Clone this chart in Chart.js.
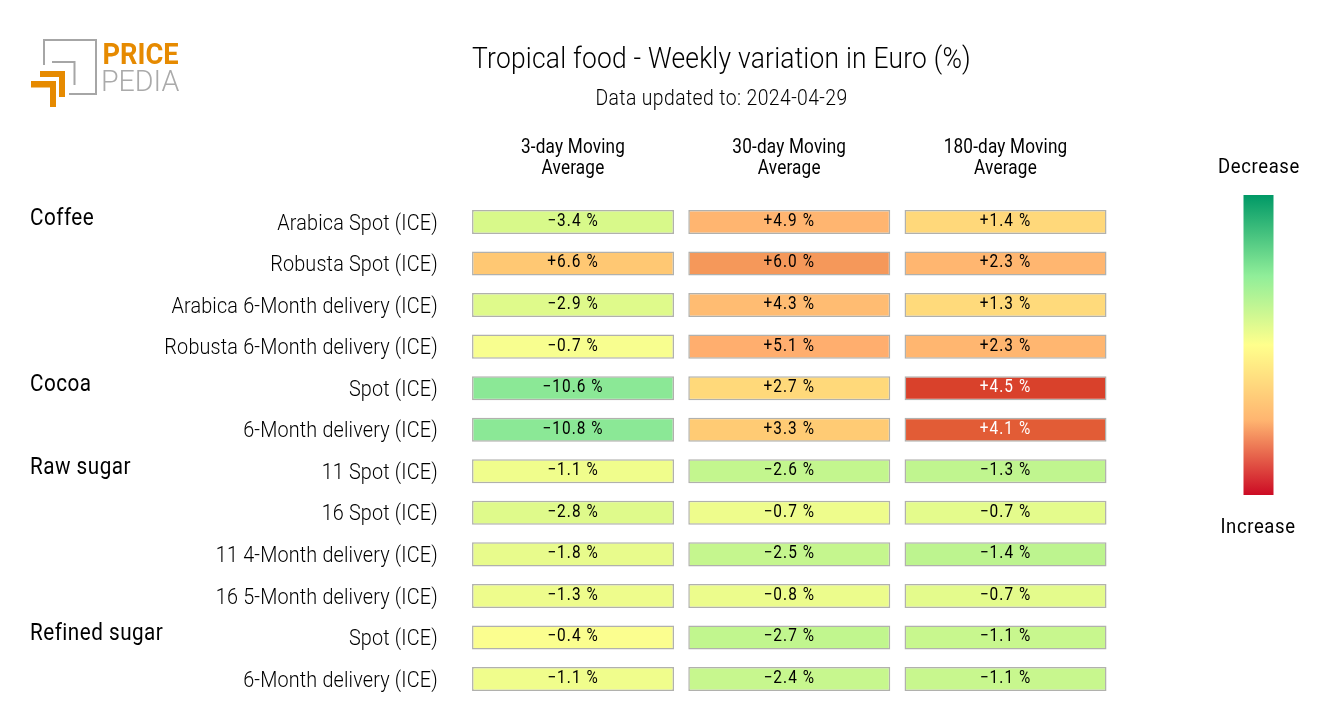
<!DOCTYPE html>
<html><head><meta charset="utf-8">
<style>html,body{margin:0;padding:0;background:#fff}canvas{display:block}</style>
<script src="https://cdn.jsdelivr.net/npm/chart.js@4"></script>
</head><body><canvas id="c" width="1320" height="720"></canvas>
<script>
const rowLabels = ["Arabica Spot (ICE)","Robusta Spot (ICE)","Arabica 6-Month delivery (ICE)","Robusta 6-Month delivery (ICE)","Spot (ICE)","6-Month delivery (ICE)","11 Spot (ICE)","16 Spot (ICE)","11 4-Month delivery (ICE)","16 5-Month delivery (ICE)","Spot (ICE)","6-Month delivery (ICE)"];
const groupLabels = ["Coffee","Cocoa","Raw sugar","Refined sugar"];
const groupRows = [0,4,6,10];
const columnLabels = [["3-day Moving","Average"],["30-day Moving","Average"],["180-day Moving","Average"]];
const ma3 = [-3.4,6.6,-2.9,-0.7,-10.6,-10.8,-1.1,-2.8,-1.8,-1.3,-0.4,-1.1];
const ma30 = [4.9,6.0,4.3,5.1,2.7,3.3,-2.6,-0.7,-2.5,-0.8,-2.7,-2.4];
const ma180 = [1.4,2.3,1.3,2.3,4.5,4.1,-1.3,-0.7,-1.4,-0.7,-1.1,-1.1];
const colors3 = ["#d8f98a","#ffc873","#dffa8b","#f8fe8f","#8be896","#8be896","#f0fd8c","#dffa8b","#e8fb8c","#eefc8c","#fbfe8f","#f0fd8c"];
const colors30 = ["#ffb570","#f5985a","#ffbc72","#ffae6e","#ffd97a","#ffcb74","#c3f68e","#eefc8c","#c5f68e","#ecfc8c","#c1f68e","#c7f78e"];
const colors180 = ["#ffd87a","#ffb670","#ffda7b","#ffb670","#d9412b","#e25c36","#c0f58f","#e4fb8c","#bdf48f","#e4fb8c","#c8f78e","#c8f78e"];
const seriesValues = [ma3, ma30, ma180];
const seriesColors = [colors3, colors30, colors180];
const titleText = "Tropical food - Weekly variation in Euro (%)";
const subtitleText = "Data updated to: 2024-04-29";
const cellInset = 0.033;
// font px size -> letter spacing (the reference text is narrow and tall)
const spacing = {30:0.25, 22:0.46, 22.5:0.2, 19.5:0.2, 17.5:1.2, 23.5:0.55, 21:0.7};
let squish = 0.88;

function fmt(v){ return (v<0?"\u2212":"+")+Math.abs(v).toFixed(1)+" %"; }
function isDark(hex){ const r=parseInt(hex.slice(1,3),16),g=parseInt(hex.slice(3,5),16),b=parseInt(hex.slice(5,7),16); return (.3*r+.59*g+.11*b)<150; }

const extras = {
  id:"extras",
  afterLayout(ch){
    ch.boxes.forEach(b=>{ if(b.options && b.options.text!==undefined){ b.left=123; b.right=1320; } });
  },
  beforeDraw(ch){
    const c=ch.ctx;
    if(!c._patched){
      const orig=c.fillText.bind(c);
      c.fillText=function(t,x,y){
        const m=/([\d.]+)px/.exec(c.font), s=spacing[m?parseFloat(m[1]):0]||0;
        c.save(); c.letterSpacing=s+"px"; c.translate(x,y); c.scale(squish,1); orig(t,0,0); c.restore();
      };
      c._patched=true;
    }
  },
  afterDraw(ch){
    const c=ch.ctx, xs=ch.scales.x, ys=ch.scales.y;
    c.save();
    c.textAlign="center"; c.textBaseline="middle"; c.font="400 17.5px Roboto";
    seriesValues.forEach((vals,k)=>vals.forEach((v,r)=>{
      c.fillStyle=isDark(seriesColors[k][r])?"#fff":"#000";
      c.fillText(fmt(v),xs.getPixelForValue(k+.5),ys.getPixelForValue(r)-0.5);
    }));
    c.textAlign="left"; c.font="400 23.5px Roboto"; c.fillStyle="#000";
    groupLabels.forEach((g,i)=>c.fillText(g,30,ys.getPixelForValue(groupRows[i])-3));
    const g=c.createLinearGradient(0,195,0,495);
    g.addColorStop(0,"#009966");g.addColorStop(.27,"#90ee99");g.addColorStop(.5,"#ffff8c");g.addColorStop(.75,"#ffb570");g.addColorStop(1,"#cc0b24");
    c.fillStyle=g;c.fillRect(1243.5,195,30,300);
    c.fillStyle="#000";c.textAlign="center";c.font="400 21px Roboto";
    c.fillText("Decrease",1259,168);c.fillText("Increase",1258,528);
    c.strokeStyle="#a6a6a6";c.lineWidth=2;c.beginPath();
    c.moveTo(44,65);c.lineTo(44,40);c.lineTo(96,40);c.lineTo(96,94);c.lineTo(69,94);
    c.moveTo(52,62);c.lineTo(74.5,62);c.lineTo(74.5,85);c.stroke();
    c.fillStyle="#e68a00";
    c.fillRect(40,71,25,6);c.fillRect(59,71,6,26);
    c.fillRect(31,81,25,6.5);c.fillRect(50,81,6,26);
    c.textAlign="left";c.textBaseline="alphabetic";
    squish=0.92;c.font="700 29.6px Roboto";c.fillText("PRICE",102.5,64);
    squish=1;c.fillStyle="#aaaaaa";c.font="300 28.6px Roboto";c.fillText("PEDIA",101,90.5);
    squish=0.88;
    c.restore();
  }
};

function noPad(s){ s.paddingTop=0; s.paddingBottom=0; }

new Chart(document.getElementById("c"),{
  type:"bar",
  data:{labels:rowLabels,datasets:seriesValues.map((vals,k)=>({
    label:columnLabels[k].join(" "),
    data:vals.map(()=>[k+cellInset,k+1-cellInset]),
    backgroundColor:seriesColors[k],
    borderColor:"rgba(70,70,60,0.42)",
    borderWidth:1.5,borderSkipped:false,grouped:false,
    barPercentage:1,categoryPercentage:0.58
  }))},
  plugins:[extras],
  options:{
    indexAxis:"y",responsive:false,animation:false,devicePixelRatio:1,
    layout:{padding:{left:0,right:206.35,top:0,bottom:20.2}},
    plugins:{
      legend:{display:false},tooltip:{enabled:false},
      title:{display:true,text:titleText,color:"#000",font:{family:"Roboto",size:30,weight:"300",lineHeight:1.2},padding:{top:42,bottom:8}},
      subtitle:{display:true,text:subtitleText,color:"#000",font:{family:"Roboto",size:22,weight:"300",lineHeight:1.2},padding:{top:0,bottom:0}}
    },
    scales:{
      x:{type:"linear",position:"top",min:0,max:3,
        grid:{display:false},border:{display:false},
        afterBuildTicks(s){s.ticks=[{value:.5},{value:1.5},{value:2.5}];},
        afterFit(s){s.height=88.8;noPad(s);},
        ticks:{autoSkip:false,maxRotation:0,padding:13.6,color:"#000",font:{family:"Roboto",size:19.5,weight:"400",lineHeight:1.08},
          callback:(v,i)=>columnLabels[i]}},
      y:{type:"category",
        grid:{display:false},border:{display:false},
        afterFit(s){s.width=464.9;noPad(s);},
        ticks:{autoSkip:false,padding:19,labelOffset:2,color:"#000",font:{family:"Roboto",size:22.5,weight:"300"}}}
    }
  }
});
</script></body></html>
